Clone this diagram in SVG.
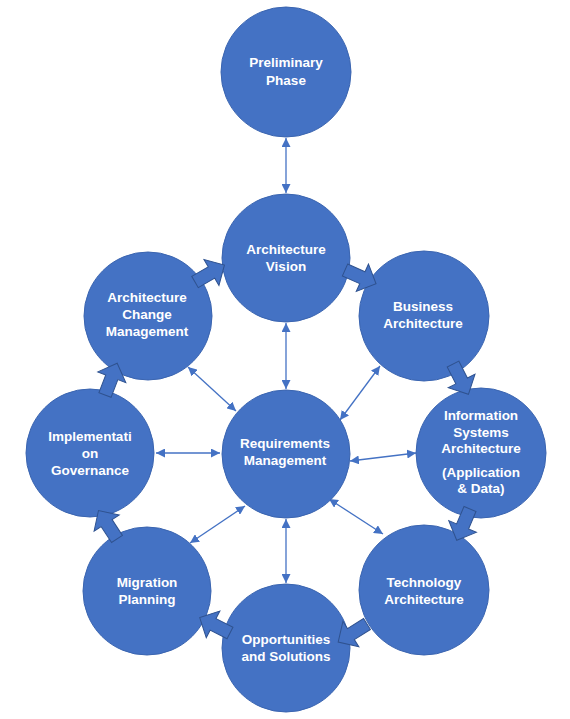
<svg xmlns="http://www.w3.org/2000/svg" xmlns:xlink="http://www.w3.org/1999/xlink" width="570" height="719" viewBox="0 0 570 719">
<defs>
<style>
.node{fill:#4472C4;stroke:#3B65B0;stroke-width:1}
.lbl{font-family:"Liberation Sans",Arial,sans-serif;font-weight:bold;font-size:13.5px;fill:#FFFFFF;text-anchor:middle}
.conn{stroke:#4472C4;stroke-width:1.3;fill:none;marker-start:url(#ah);marker-end:url(#ah)}
.blk{fill:#4472C4;stroke:#2F528F;stroke-width:1}
</style>
<marker id="ah" viewBox="0 0 10 10" refX="10" refY="5" markerUnits="userSpaceOnUse" markerWidth="9" markerHeight="9" orient="auto-start-reverse">
<path d="M0,0 L10,5 L0,10 Z" fill="#4472C4"/>
</marker>
<path id="blkarrow" d="M0,-6.5 L19,-6.5 L19,-15 L34,0 L19,15 L19,6.5 L0,6.5 Z"/>
</defs>
<rect width="570" height="719" fill="#FFFFFF"/>
<g id="connectors">
<line class="conn" x1="286" y1="138" x2="286" y2="193"/>
<line class="conn" x1="286" y1="323" x2="286" y2="389"/>
<line class="conn" x1="286" y1="519" x2="286" y2="583"/>
<line class="conn" x1="156" y1="453" x2="220" y2="453"/>
<line class="conn" x1="350" y1="461" x2="416" y2="453"/>
<line class="conn" x1="188" y1="367" x2="236" y2="411"/>
<line class="conn" x1="340" y1="420" x2="380" y2="366"/>
<line class="conn" x1="329" y1="499" x2="383" y2="534"/>
<line class="conn" x1="245" y1="506" x2="190" y2="543"/>
</g>
<g id="n-prelim">
<circle class="node" cx="286" cy="72" r="65"/>
<text class="lbl" x="286" y="67">Preliminary</text>
<text class="lbl" x="286" y="85">Phase</text>
</g>
<g id="n-vision">
<circle class="node" cx="286" cy="258" r="64"/>
<text class="lbl" x="286" y="254">Architecture</text>
<text class="lbl" x="286" y="271">Vision</text>
</g>
<g id="n-business">
<circle class="node" cx="424" cy="316" r="65"/>
<text class="lbl" x="423" y="311">Business</text>
<text class="lbl" x="423" y="328">Architecture</text>
</g>
<g id="n-infosys">
<circle class="node" cx="481" cy="453" r="65"/>
<text class="lbl" x="481" y="420">Information</text>
<text class="lbl" x="481" y="437">Systems</text>
<text class="lbl" x="481" y="453">Architecture</text>
<text class="lbl" x="481" y="477">(Application</text>
<text class="lbl" x="481" y="493">&amp; Data)</text>
</g>
<g id="n-tech">
<circle class="node" cx="424" cy="590" r="65"/>
<text class="lbl" x="424" y="587">Technology</text>
<text class="lbl" x="424" y="604">Architecture</text>
</g>
<g id="n-opp">
<circle class="node" cx="286" cy="648" r="64"/>
<text class="lbl" x="286" y="644">Opportunities</text>
<text class="lbl" x="286" y="661">and Solutions</text>
</g>
<g id="n-migration">
<circle class="node" cx="147" cy="591" r="64"/>
<text class="lbl" x="147" y="587">Migration</text>
<text class="lbl" x="147" y="604">Planning</text>
</g>
<g id="n-impl">
<circle class="node" cx="90" cy="453" r="64"/>
<text class="lbl" x="90" y="441">Implementati</text>
<text class="lbl" x="90" y="458">on</text>
<text class="lbl" x="90" y="475">Governance</text>
</g>
<g id="n-change">
<circle class="node" cx="148" cy="316" r="64"/>
<text class="lbl" x="147" y="302">Architecture</text>
<text class="lbl" x="147" y="319">Change</text>
<text class="lbl" x="147" y="336">Management</text>
</g>
<g id="n-req">
<circle class="node" cx="286" cy="454" r="64"/>
<text class="lbl" x="285" y="448">Requirements</text>
<text class="lbl" x="285" y="465">Management</text>
</g>
<g id="cycle-arrows">
<use class="blk" xlink:href="#blkarrow" transform="translate(195,282) rotate(-30)"/>
<use class="blk" xlink:href="#blkarrow" transform="translate(345,270) rotate(24)"/>
<use class="blk" xlink:href="#blkarrow" transform="translate(453,364) rotate(63)"/>
<use class="blk" xlink:href="#blkarrow" transform="translate(470,509) rotate(113)"/>
<use class="blk" xlink:href="#blkarrow" transform="translate(367,624) rotate(148)"/>
<use class="blk" xlink:href="#blkarrow" transform="translate(230,633) rotate(207)"/>
<use class="blk" xlink:href="#blkarrow" transform="translate(117,539) rotate(237)"/>
<use class="blk" xlink:href="#blkarrow" transform="translate(105,395) rotate(-69)"/>
</g>
</svg>
